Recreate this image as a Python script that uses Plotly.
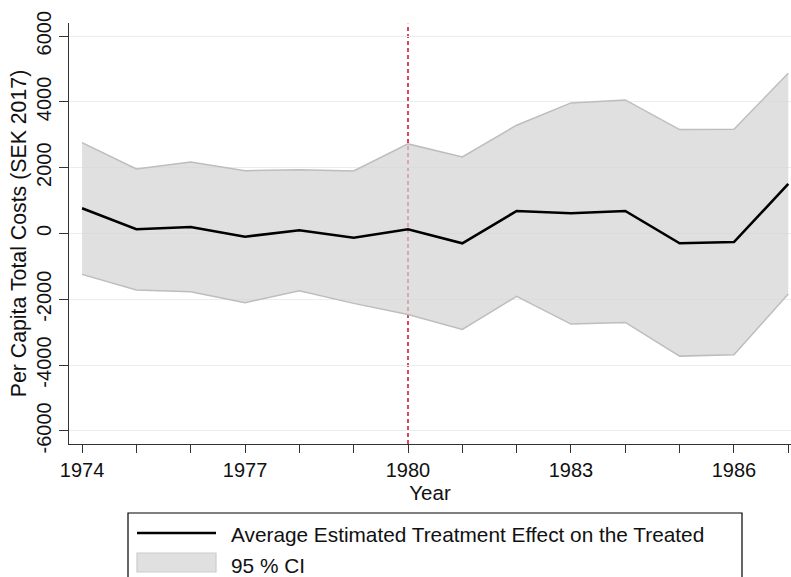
import plotly.graph_objects as go

# Event-study estimates of per capita total costs (SEK 2017)
years = [1974, 1975, 1976, 1977, 1978, 1979, 1980, 1981, 1982, 1983, 1984, 1985, 1986, 1987]
att = [767, 128, 198, -97, 97, -128, 128, -298, 685, 615, 685, -298, -259, 1506]
ci_upper = [2763, 1963, 2176, 1911, 1942, 1902, 2724, 2328, 3293, 3971, 4062, 3159, 3171, 4875]
ci_lower = [-1242, -1719, -1771, -2106, -1741, -2124, -2460, -2915, -1911, -2754, -2703, -3728, -3688, -1841]

treatment_year = 1980
x_tick_labels = ["1974", "", "", "1977", "", "", "1980", "", "", "1983", "", "", "1986", ""]
y_tick_vals = [-6000, -4000, -2000, 0, 2000, 4000, 6000]
y_tick_labels = ["-6000", "-4000", "-2000", "0", "2000", "4000", "6000"]

legend_labels = ["Average Estimated Treatment Effect on the Treated", "95 % CI"]

W, H = 791, 577
M_L, M_R, M_T, M_B = 69, 0, 23, 133
FONT = "Liberation Sans, Arial, Helvetica, sans-serif"
TEXT = "#111111"
RED = "#cc1f3a"
CI_LINE = "#bdbdbd"
CI_FILL = "rgba(211,211,211,0.7)"


def px_x(p):
    """Pixel column -> paper x."""
    return (p - M_L) / (W - M_L - M_R)


def px_y(p):
    """Pixel row -> paper y."""
    return (H - M_B - p) / (H - M_T - M_B)


fig = go.Figure()

# confidence band: lower bound, then upper bound filled down to it
fig.add_trace(go.Scatter(
    x=years, y=ci_lower, mode="lines",
    line=dict(color=CI_LINE, width=1.5),
    showlegend=False, hoverinfo="skip",
))
fig.add_trace(go.Scatter(
    x=years, y=ci_upper, mode="lines",
    line=dict(color=CI_LINE, width=1.5),
    fill="tonexty", fillcolor=CI_FILL,
    name=legend_labels[1], showlegend=False,
))
# point estimates
fig.add_trace(go.Scatter(
    x=years, y=att, mode="lines",
    line=dict(color="black", width=2.6),
    name=legend_labels[0], showlegend=False,
))

# reference lines under the band
fig.add_shape(type="line", layer="between", xref="paper", yref="y",
              x0=0, x1=1, y0=0, y1=0, line=dict(color=RED, width=1.2))
fig.add_shape(type="line", layer="between", xref="x", yref="paper",
              x0=treatment_year, x1=treatment_year, y0=0, y1=0.998,
              line=dict(color=RED, width=1.6, dash="4px,3px"))

# legend box
fig.add_shape(type="rect", xref="paper", yref="paper",
              x0=px_x(128), x1=px_x(742), y0=px_y(620), y1=px_y(513),
              line=dict(color="black", width=1.2), fillcolor="rgba(0,0,0,0)")
fig.add_shape(type="line", xref="paper", yref="paper",
              x0=px_x(137), x1=px_x(216), y0=px_y(533), y1=px_y(533),
              line=dict(color="black", width=2.6))
fig.add_shape(type="rect", xref="paper", yref="paper",
              x0=px_x(137), x1=px_x(216), y0=px_y(572), y1=px_y(553),
              line=dict(color="#cccccc", width=1.2), fillcolor="#e0e0e0")
for label, row in zip(legend_labels, [534, 565]):
    fig.add_annotation(text=label, xref="paper", yref="paper",
                       x=px_x(229), y=px_y(row), xanchor="left", yanchor="middle",
                       showarrow=False, font=dict(family=FONT, size=20.8, color=TEXT))

fig.update_layout(
    width=W, height=H,
    margin=dict(l=M_L, r=M_R, t=M_T, b=M_B, autoexpand=False),
    paper_bgcolor="white", plot_bgcolor="white",
    font=dict(family=FONT, size=20, color=TEXT),
    showlegend=False,
)
fig.update_xaxes(
    range=[1973.76, 1987.05],
    tickvals=years, ticktext=x_tick_labels,
    ticks="outside", ticklen=8, tickwidth=1.3, tickcolor="#333333",
    showline=True, linecolor="#333333", linewidth=1.3,
    showgrid=False, zeroline=False,
    tickfont=dict(size=20),
    title=dict(text="Year", font=dict(size=20.5), standoff=3),
)
fig.update_yaxes(
    range=[-6400, 6400],
    tickvals=y_tick_vals, ticktext=y_tick_labels, tickangle=-90,
    ticks="outside", ticklen=9, tickwidth=1.3, tickcolor="#333333",
    showline=True, linecolor="#333333", linewidth=1.3,
    showgrid=True, gridcolor="#e8eff2", gridwidth=1.2, zeroline=False,
    tickfont=dict(size=20),
    title=dict(text="Per Capita Total Costs (SEK 2017)", font=dict(size=21.3), standoff=0),
)

fig.write_html("out.html")
